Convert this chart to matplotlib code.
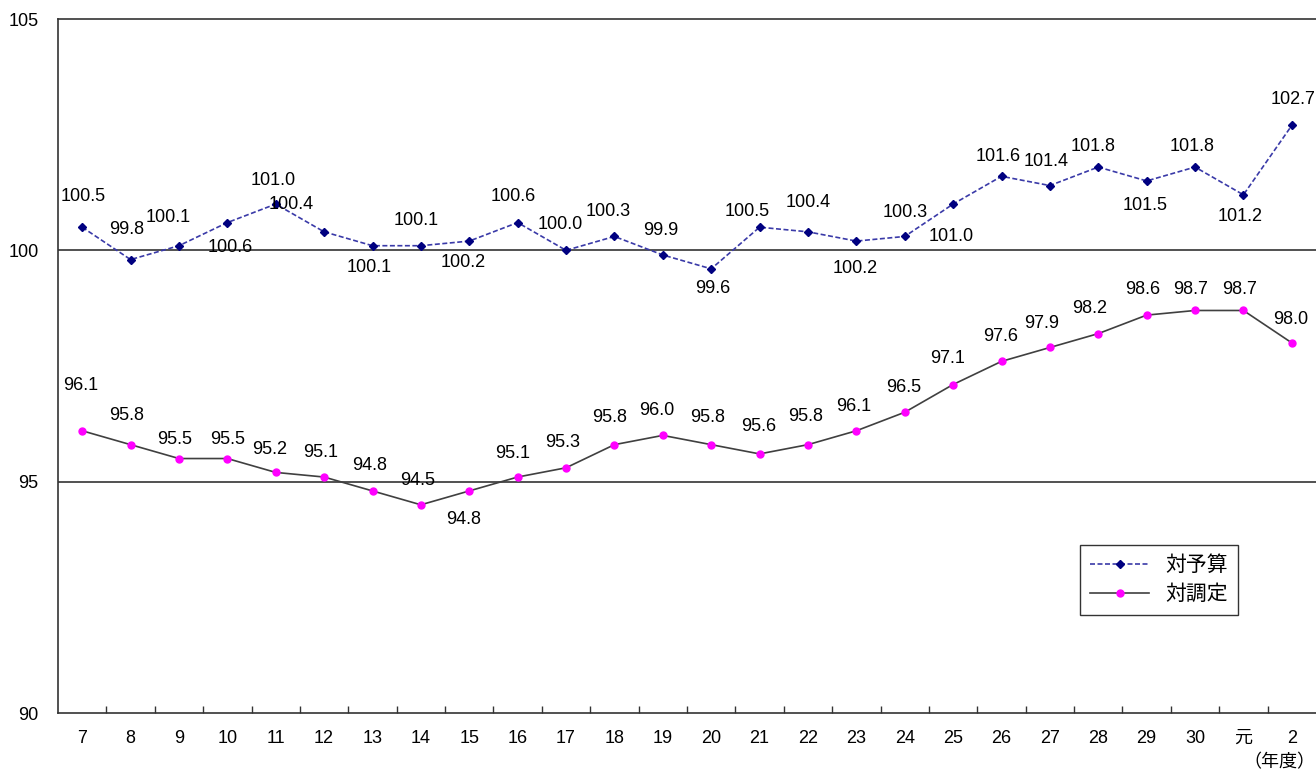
"""対予算・対調定の推移"""

import matplotlib.pyplot as plt
import numpy as np

plt.rcParams["font.family"] = ["Liberation Sans", "Noto Sans CJK JP", "DejaVu Sans"]

years = ["7", "8", "9", "10", "11", "12", "13", "14", "15", "16", "17", "18", "19",
         "20", "21", "22", "23", "24", "25", "26", "27", "28", "29", "30", "元", "2"]

budget = [100.5, 99.8, 100.1, 100.6, 101.0, 100.4, 100.1, 100.1, 100.2, 100.6,
          100.0, 100.3, 99.9, 99.6, 100.5, 100.4, 100.2, 100.3, 101.0, 101.6,
          101.4, 101.8, 101.5, 101.8, 101.2, 102.7]

assessed = [96.1, 95.8, 95.5, 95.5, 95.2, 95.1, 94.8, 94.5, 94.8, 95.1,
            95.3, 95.8, 96.0, 95.8, 95.6, 95.8, 96.1, 96.5, 97.1, 97.6,
            97.9, 98.2, 98.6, 98.7, 98.7, 98.0]

# label offsets in pixels (dx, dy)
budget_off = [(1, 31), (-4, 30), (-11, 28), (3, -25), (-3, 24), (-33, 27),
              (-3, -22), (-5, 25), (-6, -21), (-4, 26), (-6, 26), (-6, 25),
              (-2, 24), (2, -20), (-12, 16), (0, 29), (-1, -27), (0, 24),
              (-2, -32), (-3, 20), (-4, 24), (-5, 21), (-2, -25), (-3, 21),
              (-3, -22), (1, 26)]
assessed_off = [(-2, 45), (-4, 29), (-4, 19), (0, 19), (-6, 23), (-3, 25),
                (-3, 25), (-3, 24), (-6, -29), (-5, 24), (-3, 25), (-5, 27),
                (-6, 25), (-4, 27), (-1, 27), (-2, 28), (-3, 24), (-1, 25),
                (-6, 26), (-1, 25), (-8, 24), (-9, 25), (-4, 26), (-4, 21),
                (-4, 21), (-1, 23)]

W, H = 1316, 774
fig = plt.figure(figsize=(W / 100, H / 100), dpi=100)
ax = fig.add_axes([58 / W, (H - 713) / H, (W - 58) / W, (713 - 19) / H])

x = np.arange(len(years))
ax.plot(x, budget, color="#3a3aa8", lw=1.2, ls=(0, (3, 1.5)), marker="D",
        ms=4, mfc="#000080", mec="#000080", label="対予算", zorder=3)
ax.plot(x, assessed, color="#404040", lw=1.2, marker="o", ms=5,
        mfc="#ff00ff", mec="#ff00ff", label="対調定", zorder=3)

for xi, v, (dx, dy) in zip(x, budget, budget_off):
    ax.annotate(f"{v:.1f}", (xi, v), xytext=(dx, dy), textcoords="offset pixels",
                ha="center", va="center", fontsize=13)
for xi, v, (dx, dy) in zip(x, assessed, assessed_off):
    ax.annotate(f"{v:.1f}", (xi, v), xytext=(dx, dy), textcoords="offset pixels",
                ha="center", va="center", fontsize=13)

ax.set_xlim(-0.5, len(years) - 0.5)
ax.set_ylim(90, 105)
ax.set_yticks([90, 95, 100, 105])
ax.tick_params(axis="y", length=0, pad=14, labelsize=13)
ax.set_xticks(x)
ax.set_xticklabels(years)
ax.set_xticks(np.arange(len(years) - 1) + 0.5, minor=True)
ax.tick_params(axis="x", which="major", length=0, pad=12, labelsize=13)
ax.tick_params(axis="x", which="minor", direction="in", length=5, width=1,
               color="#333333")
for yv in [95, 100]:
    ax.axhline(yv, color="#333333", lw=1.2, zorder=1)

ax.spines["right"].set_visible(False)
for s in ["left", "top", "bottom"]:
    ax.spines[s].set_color("#333333")
    ax.spines[s].set_linewidth(1.2)

fig.text(1315 / W, 1 - 763 / H, "（年度）", ha="right", va="center", fontsize=13)

leg = ax.legend(loc="upper left", bbox_to_anchor=((1080 - 58) / (W - 58), (713 - 545) / (713 - 19)),
                fontsize=15, frameon=True, fancybox=False, edgecolor="black",
                handlelength=2.8, handletextpad=0.8, borderpad=0.5,
                labelspacing=0.45, borderaxespad=0)
leg.get_frame().set_linewidth(1.0)

fig.savefig("out.png", dpi=100)
